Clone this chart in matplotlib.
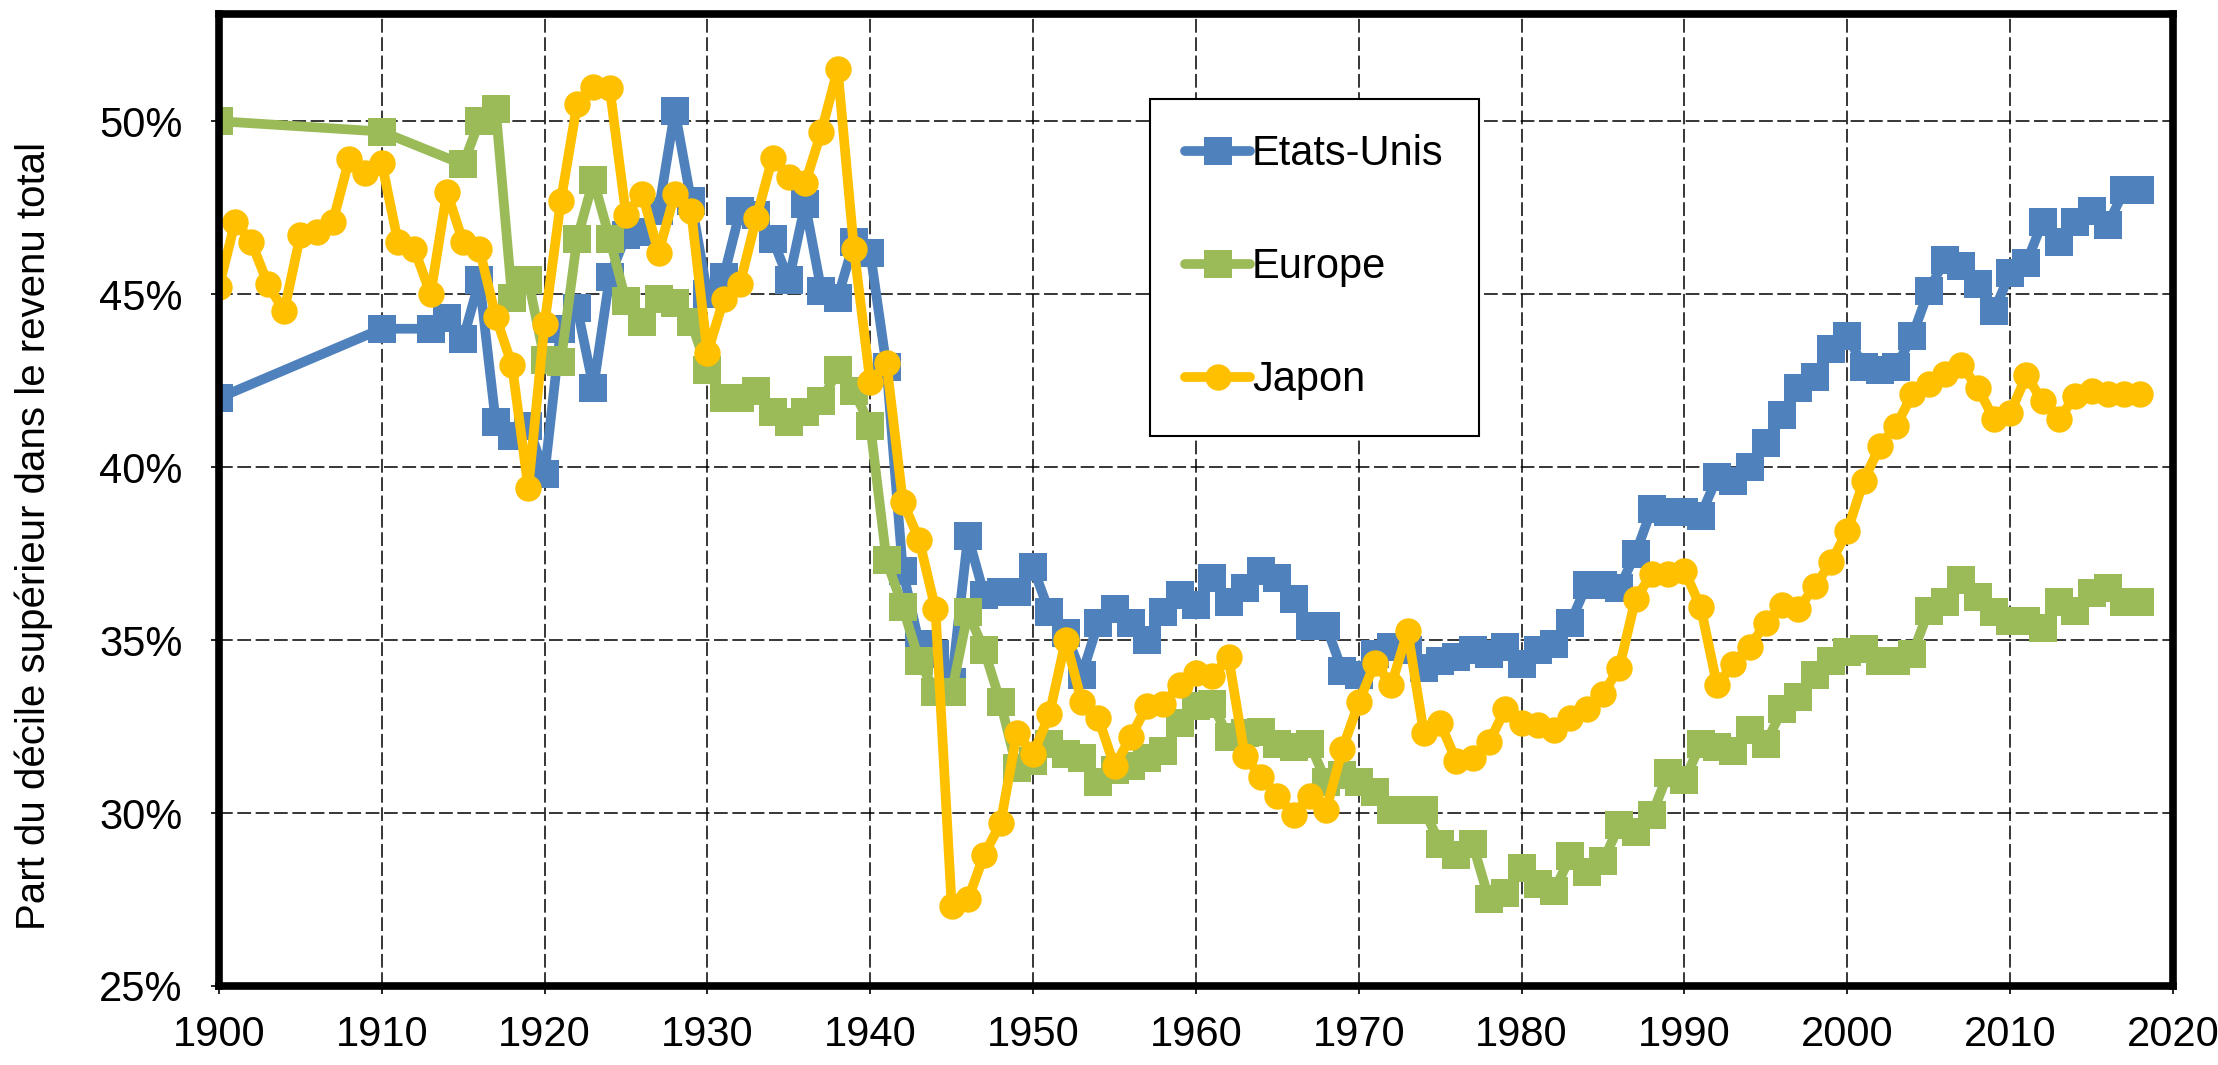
"""Top decile income share: United States, Europe and Japan, 1900-2018."""

import matplotlib
matplotlib.use("Agg")
import matplotlib.pyplot as plt
from matplotlib.ticker import FuncFormatter, MultipleLocator

# --- data (share of total income, %) -------------------------------------
US_YEARS = [1900, 1910] + list(range(1913, 2019))
US_SHARE = [
    42.0, 44.0,
    44.0, 44.3, 43.7, 45.4, 41.3, 40.9, 41.2,                    # 1913-1919
    39.8, 44.0, 44.6, 42.3, 45.5, 46.7, 46.8, 47.4, 50.3, 47.7,  # 1920s
    45.0, 45.5, 47.4, 47.3, 46.6, 45.4, 47.6, 45.1, 44.9, 46.5,  # 1930s
    46.2, 42.9, 37.0, 34.9, 34.6, 33.8, 38.0, 36.3, 36.4, 36.4,  # 1940s
    37.1, 35.8, 35.2, 34.0, 35.5, 35.9, 35.5, 35.0, 35.8, 36.3,  # 1950s
    36.0, 36.8, 36.1, 36.5, 37.0, 36.8, 36.2, 35.4, 35.4, 34.1,  # 1960s
    34.0, 34.6, 34.8, 34.7, 34.2, 34.4, 34.5, 34.7, 34.6, 34.8,  # 1970s
    34.3, 34.7, 34.9, 35.5, 36.6, 36.6, 36.5, 37.5, 38.8, 38.7,  # 1980s
    38.7, 38.6, 39.7, 39.6, 40.0, 40.7, 41.5, 42.3, 42.6, 43.4,  # 1990s
    43.8, 42.9, 42.8, 42.9, 43.8, 45.1, 46.0, 45.8, 45.3, 44.5,  # 2000s
    45.6, 45.9, 47.1, 46.5, 47.1, 47.4, 47.0, 48.0, 48.0,        # 2010-2018
]

EUROPE_YEARS = [1900, 1910] + list(range(1915, 2019))
EUROPE_SHARE = [
    50.0, 49.7,
    48.75, 50.0, 50.35, 44.9, 45.4,                                       # 1915-1919
    43.1, 43.05, 46.6, 48.3, 46.6, 44.8, 44.2, 44.85, 44.75, 44.2,        # 1920s
    42.8, 42.0, 42.0, 42.2, 41.6, 41.3, 41.6, 41.9, 42.8, 42.2,           # 1930s
    41.2, 37.3, 35.95, 34.4, 33.5, 33.5, 35.8, 34.7, 33.2, 31.3,          # 1940s
    31.5, 32.0, 31.7, 31.6, 30.9, 31.25, 31.35, 31.6, 31.8, 32.6,         # 1950s
    33.1, 33.15, 32.2, 32.3, 32.35, 32.0, 31.9, 32.0, 30.9, 31.1,         # 1960s
    30.9, 30.6, 30.1, 30.1, 30.1, 29.1, 28.8, 29.1, 27.5, 27.7,           # 1970s
    28.4, 27.95, 27.75, 28.75, 28.3, 28.6, 29.65, 29.45, 29.95, 31.15,    # 1980s
    30.95, 32.0, 31.9, 31.8, 32.4, 32.0, 33.0, 33.35, 34.0, 34.4,         # 1990s
    34.65, 34.75, 34.4, 34.4, 34.6, 35.85, 36.1, 36.75, 36.25, 35.8,      # 2000s
    35.55, 35.55, 35.35, 36.1, 35.85, 36.35, 36.5, 36.1, 36.1,            # 2010-2018
]

JAPAN_YEARS = list(range(1900, 2019))
JAPAN_SHARE = [
    45.2, 47.1, 46.5, 45.3, 44.5, 46.7, 46.8, 47.1, 48.9, 48.5,           # 1900s
    48.8, 46.5, 46.3, 45.0, 47.95, 46.5, 46.3, 44.35, 42.95, 39.4,        # 1910s
    44.15, 47.7, 50.5, 51.0, 50.95, 47.3, 47.9, 46.2, 47.9, 47.4,         # 1920s
    43.3, 44.85, 45.3, 47.2, 48.95, 48.4, 48.2, 49.7, 51.5, 46.3,         # 1930s
    42.45, 43.0, 39.0, 37.9, 35.9, 27.3, 27.5, 28.8, 29.7, 32.3,          # 1940s
    31.7, 32.85, 35.0, 33.2, 32.75, 31.35, 32.2, 33.1, 33.15, 33.7,       # 1950s
    34.05, 33.95, 34.5, 31.65, 31.05, 30.5, 29.95, 30.5, 30.1, 31.85,     # 1960s
    33.2, 34.35, 33.7, 35.25, 32.3, 32.6, 31.5, 31.6, 32.05, 33.0,        # 1970s
    32.6, 32.55, 32.4, 32.75, 33.0, 33.45, 34.2, 36.2, 36.9, 36.9,        # 1980s
    37.0, 35.95, 33.7, 34.3, 34.8, 35.5, 36.0, 35.9, 36.55, 37.25,        # 1990s
    38.15, 39.6, 40.6, 41.2, 42.1, 42.4, 42.7, 42.95, 42.3, 41.4,         # 2000s
    41.55, 42.65, 41.9, 41.4, 42.05, 42.2, 42.1, 42.1, 42.1,              # 2010-2018
]

SERIES = ["Etats-Unis", "Europe", "Japon"]
Y_LABEL = "Part du décile supérieur dans le revenu total"


def plot_top_decile(save="out.png"):
    """Draw the three top-decile series in the Excel-like style."""
    plt.rcParams["font.family"] = ["Liberation Sans", "DejaVu Sans"]

    fig = plt.figure(figsize=(22.18, 10.65), dpi=100)
    ax = fig.add_axes([0.0987, 0.0742, 0.8810, 0.9127])

    style = dict(lw=7, markeredgewidth=0, solid_joinstyle="round",
                 solid_capstyle="round")
    ax.plot(US_YEARS, US_SHARE, color="#4F81BD", marker="s", ms=20,
            label=SERIES[0], **style)
    ax.plot(EUROPE_YEARS, EUROPE_SHARE, color="#9BBB59", marker="s", ms=20,
            label=SERIES[1], **style)
    ax.plot(JAPAN_YEARS, JAPAN_SHARE, color="#FFC000", marker="o", ms=19,
            label=SERIES[2], **style)

    ax.set_xlim(1900, 2020)
    ax.set_ylim(25, 53.1)
    ax.xaxis.set_major_locator(MultipleLocator(10))
    ax.yaxis.set_major_locator(MultipleLocator(5))
    ax.yaxis.set_major_formatter(FuncFormatter(lambda v, _: "{:.0f}%".format(v)))

    ax.set_axisbelow(True)
    ax.grid(True, color="black", lw=1.1, linestyle=(0, (9, 3)))
    for spine in ax.spines.values():
        spine.set_linewidth(5.5)
        spine.set_color("black")

    ax.tick_params(axis="both", direction="out", length=6, width=1.2,
                   labelsize=30, color="black")
    ax.tick_params(axis="y", pad=20)
    ax.tick_params(axis="x", pad=15)

    fig.text(0.0150, 0.497, Y_LABEL, rotation=90, ha="center", va="center",
             fontsize=29)

    leg = ax.legend(loc="upper left", bbox_to_anchor=(0.4765, 0.9126),
                    borderaxespad=0, fontsize=30, frameon=True, fancybox=False,
                    edgecolor="black", framealpha=1, handlelength=1.55,
                    handletextpad=0.05, borderpad=0.85, labelspacing=1.75)
    leg.get_frame().set_linewidth(1.5)

    fig.savefig(save, dpi=100)
    plt.close(fig)
    return save


if __name__ == "__main__":
    plot_top_decile()
